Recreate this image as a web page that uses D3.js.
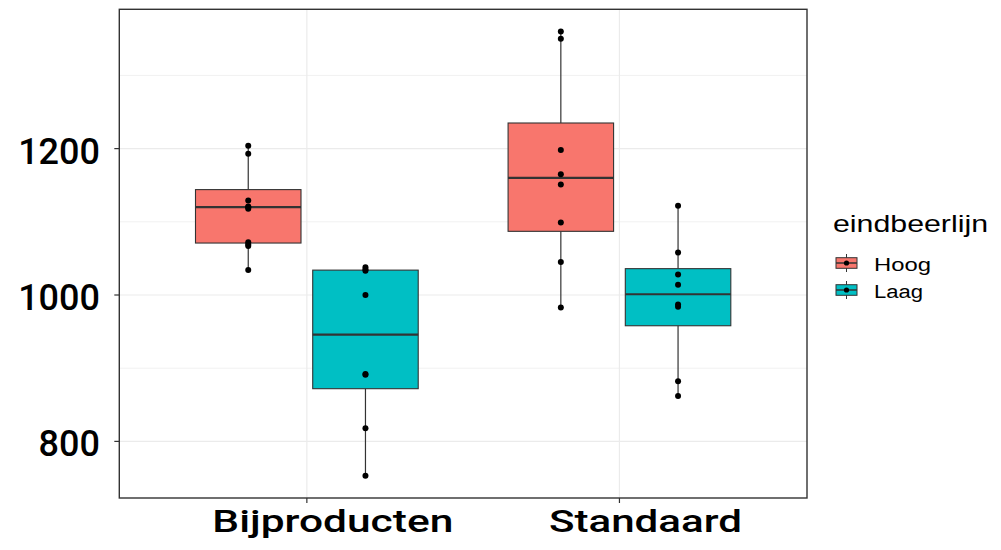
<!DOCTYPE html>
<html lang="en">
<head>
<meta charset="UTF-8">
<title>eindbeerlijn boxplot</title>
<style>
    body { margin: 0; background: #fff; }
    svg { display: block; }
</style>
</head>
<body>
<svg></svg>
<script src="https://cdn.jsdelivr.net/npm/d3@7/dist/d3.min.js"></script>
<script>
// categories and groups
const categories = ["Bijproducten", "Standaard"];
const groups = ["Hoog", "Laag"];
const groupColors = ["#F8766D", "#00BFC4"];

// box statistics, one entry per box (category x group)
const boxCategory = ["Bijproducten", "Bijproducten", "Standaard", "Standaard"];
const boxGroup = ["Hoog", "Laag", "Hoog", "Laag"];
const lowerWhisker = [1034, 753, 983, 862];
const q1 = [1071, 872, 1087, 958];
const median = [1120, 946, 1160, 1001];
const q3 = [1144, 1034, 1235, 1036];
const upperWhisker = [1205, 1038, 1360, 1122];

// raw observations per box
const bijproductenHoog = [1034, 1067, 1069, 1072, 1118, 1120, 1121, 1129, 1193, 1204];
const bijproductenLaag = [753, 818, 892, 891, 1000, 1033, 1035, 1038];
const standaardHoog = [983, 1045, 1099, 1151, 1165, 1198, 1350, 1360];
const standaardLaag = [862, 882, 984, 987, 1014, 1028, 1058, 1122];
const boxPoints = [bijproductenHoog, bijproductenLaag, standaardHoog, standaardLaag];

// y ticks
const majorTicks = [800, 1000, 1200];
const minorTicks = [900, 1100, 1300];

const width = 1001, height = 550;
const panel = { left: 119.3, top: 9.3, right: 807, bottom: 498 };

const svg = d3.select("svg")
    .attr("width", width)
    .attr("height", height);

svg.append("rect").attr("width", width).attr("height", height).attr("fill", "#fff");

// ggplot-like 5% expansion of the data range
const allValues = boxPoints.flat();
const [vmin, vmax] = d3.extent(allValues);
const pad = (vmax - vmin) * 0.05;

const y = d3.scaleLinear()
    .domain([vmin - pad, vmax + pad])
    .range([panel.bottom, panel.top]);

const x = d3.scalePoint()
    .domain(categories)
    .range([panel.left, panel.right])
    .padding(0.6);

const dodge = d3.scaleBand()
    .domain(groups)
    .range([-0.375 * x.step(), 0.375 * x.step()])
    .paddingInner(0.1)
    .paddingOuter(0.05);

const color = d3.scaleOrdinal().domain(groups).range(groupColors);

// grid
const grid = svg.append("g");
grid.selectAll(".minor")
    .data(minorTicks)
    .join("line")
    .attr("x1", panel.left).attr("x2", panel.right)
    .attr("y1", d => y(d)).attr("y2", d => y(d))
    .attr("stroke", "#ebebeb").attr("stroke-width", 0.7);
grid.selectAll(".major")
    .data(majorTicks)
    .join("line")
    .attr("x1", panel.left).attr("x2", panel.right)
    .attr("y1", d => y(d)).attr("y2", d => y(d))
    .attr("stroke", "#ebebeb").attr("stroke-width", 1.2);
grid.selectAll(".vmajor")
    .data(categories)
    .join("line")
    .attr("x1", d => x(d)).attr("x2", d => x(d))
    .attr("y1", panel.top).attr("y2", panel.bottom)
    .attr("stroke", "#ebebeb").attr("stroke-width", 1.2);

// boxes
const boxes = svg.append("g")
    .selectAll("g")
    .data(d3.range(boxCategory.length))
    .join("g");

const cx = i => x(boxCategory[i]) + dodge(boxGroup[i]) + dodge.bandwidth() / 2;

boxes.append("line")
    .attr("x1", cx).attr("x2", cx)
    .attr("y1", i => y(upperWhisker[i])).attr("y2", i => y(q3[i]))
    .attr("stroke", "#333").attr("stroke-width", 1.2);
boxes.append("line")
    .attr("x1", cx).attr("x2", cx)
    .attr("y1", i => y(q1[i])).attr("y2", i => y(lowerWhisker[i]))
    .attr("stroke", "#333").attr("stroke-width", 1.2);
boxes.append("rect")
    .attr("x", i => x(boxCategory[i]) + dodge(boxGroup[i]))
    .attr("width", dodge.bandwidth())
    .attr("y", i => y(q3[i]))
    .attr("height", i => y(q1[i]) - y(q3[i]))
    .attr("fill", i => color(boxGroup[i]))
    .attr("stroke", "#333").attr("stroke-width", 1.1);
boxes.append("line")
    .attr("x1", i => x(boxCategory[i]) + dodge(boxGroup[i]))
    .attr("x2", i => x(boxCategory[i]) + dodge(boxGroup[i]) + dodge.bandwidth())
    .attr("y1", i => y(median[i])).attr("y2", i => y(median[i]))
    .attr("stroke", "#333").attr("stroke-width", 2.2);

// points
boxes.selectAll("circle")
    .data(i => boxPoints[i].map(v => ({ i, v })))
    .join("circle")
    .attr("cx", d => cx(d.i))
    .attr("cy", d => y(d.v))
    .attr("r", 3)
    .attr("fill", "#000");

// panel border
svg.append("rect")
    .attr("x", panel.left).attr("y", panel.top)
    .attr("width", panel.right - panel.left)
    .attr("height", panel.bottom - panel.top)
    .attr("fill", "none")
    .attr("stroke", "#333").attr("stroke-width", 1.4);

// y axis
const yAxis = svg.append("g");
yAxis.selectAll("line")
    .data(majorTicks)
    .join("line")
    .attr("x1", panel.left - 5).attr("x2", panel.left)
    .attr("y1", d => y(d)).attr("y2", d => y(d))
    .attr("stroke", "#333").attr("stroke-width", 1.2);
yAxis.selectAll("text")
    .data(majorTicks)
    .join("text")
    .attr("x", 100)
    .attr("y", d => y(d) + 15)
    .attr("text-anchor", "end")
    .attr("font-family", "Roboto, sans-serif")
    .attr("font-weight", 500)
    .attr("font-size", 36)
    .attr("fill", "#000")
    .text(d => d);

// x axis
const xAxis = svg.append("g");
xAxis.selectAll("line")
    .data(categories)
    .join("line")
    .attr("x1", d => x(d)).attr("x2", d => x(d))
    .attr("y1", panel.bottom).attr("y2", panel.bottom + 5)
    .attr("stroke", "#333").attr("stroke-width", 1.2);
const xLabelWidth = { Bijproducten: 241, Standaard: 193 };
xAxis.selectAll("text")
    .data(categories)
    .join("text")
    .attr("x", d => x(d) + 26)
    .attr("y", 532)
    .attr("text-anchor", "middle")
    .attr("font-family", "Roboto, sans-serif")
    .attr("font-weight", 500)
    .attr("font-size", 32)
    .attr("textLength", d => xLabelWidth[d])
    .attr("lengthAdjust", "spacingAndGlyphs")
    .attr("fill", "#000")
    .text(d => d);

// legend
const legend = svg.append("g").attr("font-family", "'Liberation Sans', Arial, sans-serif");
legend.append("text")
    .attr("x", 833).attr("y", 232)
    .attr("font-size", 24)
    .attr("textLength", 155)
    .attr("lengthAdjust", "spacingAndGlyphs")
    .attr("fill", "#000")
    .text("eindbeerlijn");

const keyWidth = [57, 49];
const keys = legend.selectAll(".key")
    .data(groups)
    .join("g")
    .attr("transform", (d, i) => `translate(846.5, ${263 + i * 27})`);
keys.append("line")
    .attr("y1", -9).attr("y2", 9)
    .attr("stroke", "#333").attr("stroke-width", 1);
keys.append("rect")
    .attr("x", -10.5).attr("y", -5.3)
    .attr("width", 21).attr("height", 10.6)
    .attr("fill", d => color(d))
    .attr("stroke", "#333").attr("stroke-width", 1);
keys.append("line")
    .attr("x1", -10.5).attr("x2", 10.5)
    .attr("stroke", "#333").attr("stroke-width", 1.5);
keys.append("circle")
    .attr("r", 2.6)
    .attr("fill", "#000");
keys.append("text")
    .attr("x", 27.5).attr("y", 7.5)
    .attr("font-size", 18)
    .attr("textLength", (d, i) => keyWidth[i])
    .attr("lengthAdjust", "spacingAndGlyphs")
    .attr("fill", "#000")
    .text(d => d);
</script>
</body>
</html>
